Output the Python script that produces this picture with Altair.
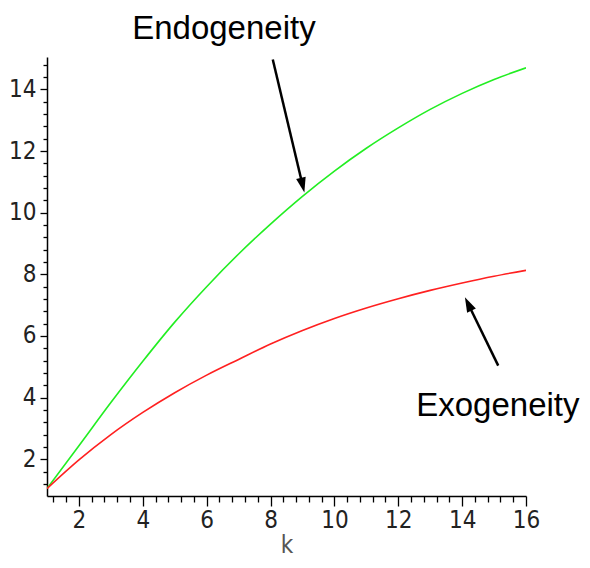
import altair as alt
import pandas as pd

# ---- data ----
k_values = list(range(1, 17))
endogeneity = [1.05, 2.44, 3.84, 5.18, 6.45, 7.60, 8.66, 9.63, 10.53, 11.35,
               12.09, 12.75, 13.35, 13.87, 14.32, 14.70]
exogeneity = [1.05, 1.98, 2.80, 3.52, 4.16, 4.73, 5.24, 5.74, 6.18, 6.57,
              6.91, 7.21, 7.48, 7.72, 7.94, 8.13]

x_major = [2, 4, 6, 8, 10, 12, 14, 16]
y_major = [2, 4, 6, 8, 10, 12, 14]
x_minor = [round(1.2 + 0.4 * i, 1) for i in range(37) if round(1.2 + 0.4 * i, 1) % 2 != 0]
y_minor = [round(1.2 + 0.4 * i, 1) for i in range(35) if round(1.2 + 0.4 * i, 1) % 2 != 0]

# annotation texts and arrows (data coordinates)
label_text = ["Endogeneity", "Exogeneity"]
label_k = [6.54, 15.12]
label_y = [15.63, 3.42]
arrow_k_tail = [8.07, 15.13]
arrow_y_tail = [14.97, 5.04]
arrow_k_head = [9.005, 14.19]
arrow_y_head = [10.89, 7.04]
arrow_angle = [166.7, 334.0]

X_DOMAIN = [1, 16]
Y_DOMAIN = [0.81, 15.05]

FONT = "DejaVu Sans Condensed, Liberation Sans"

df_endo = pd.DataFrame({"k": k_values, "v": endogeneity})
df_exo = pd.DataFrame({"k": k_values, "v": exogeneity})
df_lab = pd.DataFrame({"t": label_text, "k": label_k, "v": label_y})
df_arr = pd.DataFrame({"k": arrow_k_tail, "v": arrow_y_tail,
                       "k2": arrow_k_head, "v2": arrow_y_head, "a": arrow_angle})

xs = alt.Scale(domain=X_DOMAIN, nice=False, zero=False)
ys = alt.Scale(domain=Y_DOMAIN, nice=False, zero=False)

x_main_axis = alt.Axis(values=x_major, orient="bottom", grid=False, tickSize=10,
                       tickWidth=1.3, tickColor="black", domainColor="black",
                       domainWidth=1.5, labelFont=FONT, labelFontSize=24,
                       labelColor="#222", labelPadding=2, title="k",
                       titleFont=FONT, titleFontSize=24, titleColor="#555",
                       titleFontWeight="normal", titleY=56,
                       titleBaseline="alphabetic", labelFlush=False)
y_main_axis = alt.Axis(values=y_major, orient="left", grid=False, tickSize=7,
                       tickWidth=1.3, tickColor="black", domainColor="black",
                       domainWidth=1.5, labelFont=FONT, labelFontSize=24,
                       labelColor="#222", labelPadding=4, title=None,
                       labelFlush=False)
x_minor_axis = alt.Axis(values=x_minor, orient="bottom", grid=False, tickSize=6,
                        tickWidth=1.3, tickColor="black", domain=False,
                        labels=False, title=None)
y_minor_axis = alt.Axis(values=y_minor, orient="left", grid=False, tickSize=4,
                        tickWidth=1.3, tickColor="black", domain=False,
                        labels=False, title=None)

endo_line = alt.Chart(df_endo).mark_line(
    color="#22ee22", strokeWidth=1.6, interpolate="monotone", clip=True
).encode(
    x=alt.X("k:Q", scale=xs, axis=x_main_axis),
    y=alt.Y("v:Q", scale=ys, axis=y_main_axis),
)

exo_line = alt.Chart(df_exo).mark_line(
    color="#ff2020", strokeWidth=1.6, interpolate="monotone", clip=True
).encode(
    x=alt.X("k:Q", scale=xs, axis=x_minor_axis),
    y=alt.Y("v:Q", scale=ys, axis=y_minor_axis),
)

lines = alt.layer(endo_line, exo_line).resolve_axis(x="independent", y="independent")

labels = alt.Chart(df_lab).mark_text(
    font="Liberation Sans, Arial", fontSize=33, color="black",
    align="center", baseline="alphabetic"
).encode(
    x=alt.X("k:Q", scale=xs, axis=None),
    y=alt.Y("v:Q", scale=ys, axis=None),
    text="t:N",
)

shafts = alt.Chart(df_arr).mark_rule(color="black", strokeWidth=2.5).encode(
    x=alt.X("k:Q", scale=xs, axis=None),
    y=alt.Y("v:Q", scale=ys, axis=None),
    x2="k2:Q",
    y2="v2:Q",
)

heads = alt.Chart(df_arr).mark_point(
    shape="M0,-1L0.65,1L-0.65,1Z", size=225, filled=True, color="black", opacity=1
).encode(
    x=alt.X("k2:Q", scale=xs, axis=None),
    y=alt.Y("v2:Q", scale=ys, axis=None),
    angle=alt.Angle("a:Q", scale=None),
)

chart = alt.layer(lines, shafts, heads, labels).properties(
    width=479, height=439,
    autosize=alt.AutoSizeParams(type="none"),
    padding={"left": 39, "top": 49, "right": 56, "bottom": 64},
    background="white",
).configure_view(stroke=None)

chart.save("out.html", embed_options={"renderer": "svg", "actions": False})
